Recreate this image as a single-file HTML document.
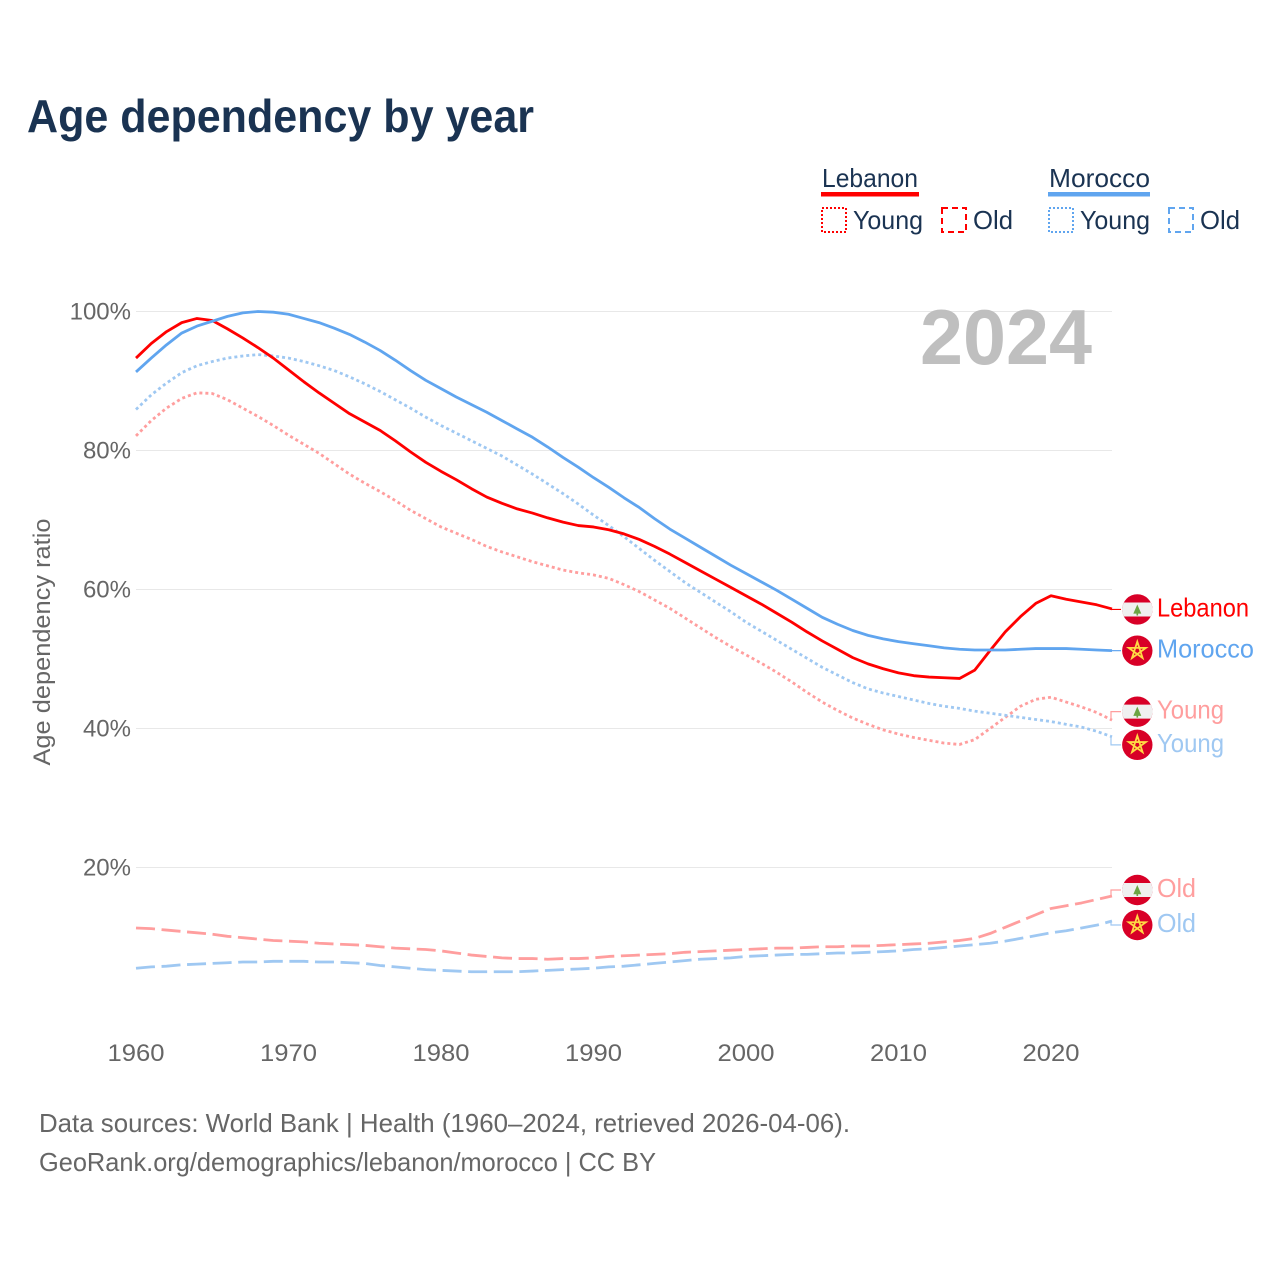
<!DOCTYPE html>
<html lang="en">
<head>
<meta charset="utf-8">
<title>Age dependency by year</title>
<style>
  html, body { margin: 0; padding: 0; background: #fff; }
  svg { display: block; font-family: "Liberation Sans", sans-serif; }
</style>
</head>
<body>
<svg id="chart" xmlns="http://www.w3.org/2000/svg" width="1280" height="1280" viewBox="0 0 1280 1280">
  <rect width="1280" height="1280" fill="#fff"/>
  <text x="27" y="132" font-size="46" font-weight="700" fill="#1a3352" textLength="507" lengthAdjust="spacingAndGlyphs">Age dependency by year</text>

  <g font-size="26" fill="#1a3352">
    <text x="822" y="187" textLength="96" lengthAdjust="spacingAndGlyphs">Lebanon</text>
    <rect x="821" y="192" width="98" height="4.5" fill="#ff0000"/>
    <rect x="822" y="208" width="24" height="24" fill="none" stroke="#ff0000" stroke-width="2" stroke-dasharray="2 2"/>
    <text x="853" y="229" textLength="70" lengthAdjust="spacingAndGlyphs">Young</text>
    <rect x="942" y="208" width="24" height="24" fill="none" stroke="#ff0000" stroke-width="2" stroke-dasharray="6 4"/>
    <text x="973" y="229" textLength="40" lengthAdjust="spacingAndGlyphs">Old</text>

    <text x="1049" y="187" textLength="101" lengthAdjust="spacingAndGlyphs">Morocco</text>
    <rect x="1048" y="192" width="102" height="4.5" fill="#60a5ef"/>
    <rect x="1049" y="208" width="24" height="24" fill="none" stroke="#60a5ef" stroke-width="2" stroke-dasharray="2 2"/>
    <text x="1080" y="229" textLength="70" lengthAdjust="spacingAndGlyphs">Young</text>
    <rect x="1169" y="208" width="24" height="24" fill="none" stroke="#60a5ef" stroke-width="2" stroke-dasharray="6 4"/>
    <text x="1200" y="229" textLength="40" lengthAdjust="spacingAndGlyphs">Old</text>
  </g>

  <text transform="translate(50 642) rotate(-90)" text-anchor="middle" font-size="24" fill="#666666" textLength="247" lengthAdjust="spacingAndGlyphs">Age dependency ratio</text>

  <g id="grid"></g>
  <g id="yticks"></g>
  <g id="xticks"></g>

  <text x="920" y="364" font-size="78" font-weight="700" fill="#bfbfbf" textLength="172" lengthAdjust="spacingAndGlyphs">2024</text>

  <g id="series"></g>
  <g id="ends"></g>

  <text x="39" y="1132" font-size="26" fill="#666666" textLength="811" lengthAdjust="spacingAndGlyphs">Data sources: World Bank | Health (1960–2024, retrieved 2026-04-06).</text>
  <text x="39" y="1171" font-size="26" fill="#666666" textLength="617" lengthAdjust="spacingAndGlyphs">GeoRank.org/demographics/lebanon/morocco | CC BY</text>
</svg>

<script>
const years = [1960,1961,1962,1963,1964,1965,1966,1967,1968,1969,1970,1971,1972,1973,1974,1975,1976,1977,1978,1979,1980,1981,1982,1983,1984,1985,1986,1987,1988,1989,1990,1991,1992,1993,1994,1995,1996,1997,1998,1999,2000,2001,2002,2003,2004,2005,2006,2007,2008,2009,2010,2011,2012,2013,2014,2015,2016,2017,2018,2019,2020,2021,2022,2023,2024];
const lebanonTotal = [93.3,95.4,97.1,98.4,99.0,98.7,97.5,96.2,94.8,93.3,91.6,89.9,88.3,86.8,85.3,84.1,82.9,81.4,79.8,78.3,77.0,75.8,74.5,73.3,72.4,71.6,71.0,70.3,69.7,69.2,69.0,68.6,68.0,67.2,66.2,65.1,63.9,62.7,61.5,60.3,59.1,57.9,56.6,55.3,53.9,52.6,51.4,50.2,49.3,48.6,48.0,47.6,47.4,47.3,47.2,48.4,51.2,53.9,56.1,58.0,59.1,58.6,58.2,57.8,57.2];
const moroccoTotal = [91.3,93.3,95.2,96.9,97.9,98.6,99.3,99.8,100.0,99.9,99.6,99.0,98.4,97.6,96.7,95.6,94.4,93.0,91.5,90.1,88.9,87.7,86.6,85.5,84.3,83.1,81.9,80.5,79.0,77.6,76.1,74.7,73.2,71.8,70.2,68.7,67.4,66.1,64.8,63.5,62.3,61.1,59.9,58.6,57.3,56.0,55.0,54.1,53.4,52.9,52.5,52.2,51.9,51.6,51.4,51.3,51.3,51.3,51.4,51.5,51.5,51.5,51.4,51.3,51.2];
const lebanonYoung = [82.1,84.3,86.1,87.5,88.3,88.2,87.3,86.1,84.9,83.6,82.2,80.9,79.6,78.1,76.6,75.3,74.1,72.8,71.4,70.2,69.0,68.1,67.2,66.2,65.4,64.7,64.0,63.4,62.8,62.4,62.1,61.6,60.7,59.7,58.5,57.3,55.9,54.5,53.1,51.8,50.6,49.4,48.1,46.7,45.2,43.8,42.6,41.5,40.6,39.8,39.2,38.7,38.3,37.9,37.7,38.4,40.0,41.6,43.2,44.2,44.5,43.8,43.1,42.3,41.2];
const moroccoYoung = [85.9,88.0,89.7,91.2,92.2,92.8,93.3,93.6,93.8,93.6,93.3,92.8,92.2,91.5,90.6,89.6,88.5,87.3,86.1,84.8,83.6,82.5,81.4,80.3,79.2,77.9,76.6,75.2,73.8,72.3,70.7,69.2,67.6,65.9,64.2,62.6,61.0,59.6,58.2,56.8,55.3,54.0,52.7,51.4,50.1,48.8,47.7,46.6,45.7,45.1,44.6,44.1,43.6,43.2,42.9,42.5,42.2,41.9,41.6,41.3,41.0,40.6,40.2,39.6,38.8];
const lebanonOld = [11.3,11.2,11.0,10.8,10.6,10.4,10.1,9.9,9.7,9.5,9.4,9.3,9.1,9.0,8.9,8.8,8.6,8.4,8.3,8.2,8.0,7.7,7.4,7.2,7.0,6.9,6.9,6.8,6.9,6.9,7.0,7.2,7.3,7.4,7.5,7.6,7.8,7.9,8.0,8.1,8.2,8.3,8.4,8.4,8.5,8.6,8.6,8.7,8.7,8.8,8.9,9.0,9.1,9.3,9.5,9.8,10.5,11.4,12.3,13.2,14.1,14.5,14.9,15.4,15.9];
const moroccoOld = [5.5,5.7,5.8,6.0,6.1,6.2,6.3,6.4,6.4,6.5,6.5,6.5,6.4,6.4,6.3,6.2,5.9,5.7,5.5,5.3,5.2,5.1,5.0,5.0,5.0,5.0,5.1,5.2,5.3,5.4,5.5,5.7,5.8,6.0,6.2,6.4,6.6,6.8,6.9,7.0,7.2,7.3,7.4,7.5,7.5,7.6,7.7,7.7,7.8,7.9,8.0,8.2,8.3,8.5,8.7,8.9,9.1,9.4,9.8,10.2,10.6,10.9,11.3,11.7,12.3];
const yTickValues = [20,40,60,80,100];
const yTickLabels = ["20%","40%","60%","80%","100%"];
const xTickValues = [1960,1970,1980,1990,2000,2010,2020];
const xTickLabels = ["1960","1970","1980","1990","2000","2010","2020"];

const NS = "http://www.w3.org/2000/svg";
const xAxis = function (year) { return 136 + (year - 1960) * 15.25; };
const yAxis = function (value) { return 1006.5 - value * 6.95; };
const make = function (tag, parent) {
  const el = document.createElementNS(NS, tag);
  parent.appendChild(el);
  return el;
};

const gridGroup = document.getElementById("grid");
const yTickGroup = document.getElementById("yticks");
const xTickGroup = document.getElementById("xticks");
const seriesGroup = document.getElementById("series");
const endGroup = document.getElementById("ends");

yTickValues.forEach(function (v, i) {
  const line = make("line", gridGroup);
  
  
  line.setAttribute("x1", xAxis(1960));
  line.setAttribute("x2", xAxis(2024));
  line.setAttribute("y1", yAxis(v));
  line.setAttribute("y2", yAxis(v));
  line.setAttribute("stroke", "#e8e8e8");
  line.setAttribute("stroke-width", "1");
  const t = make("text", yTickGroup);
  
  
  t.setAttribute("x", 131);
  t.setAttribute("y", yAxis(v) + 8);
  t.setAttribute("text-anchor", "end");
  t.setAttribute("font-size", "24");
  t.setAttribute("fill", "#666666");
  t.textContent = yTickLabels[i];
});

xTickValues.forEach(function (v, i) {
  const t = make("text", xTickGroup);
  
  
  t.setAttribute("x", xAxis(v));
  t.setAttribute("y", 1061);
  t.setAttribute("text-anchor", "middle");
  t.setAttribute("font-size", "24");
  t.setAttribute("fill", "#666666");
  t.setAttribute("textLength", "57");
  t.setAttribute("lengthAdjust", "spacingAndGlyphs");
  t.textContent = xTickLabels[i];
});

function drawLine(values, color, dash, name) {
  const p = make("path", seriesGroup);
  
  
  p.setAttribute("d", values.map(function (v, i) {
    return (i ? "L" : "M") + xAxis(years[i]).toFixed(2) + " " + yAxis(v).toFixed(2);
  }).join(""));
  p.setAttribute("fill", "none");
  p.setAttribute("stroke", color);
  p.setAttribute("stroke-width", "2.8");
  p.setAttribute("stroke-linejoin", "round");
  if (dash) p.setAttribute("stroke-dasharray", dash);
}

function drawFlag(country, cy) {
  const g = make("g", endGroup);
  
  
  g.setAttribute("transform", "translate(1137.3 " + cy + ")");
  const disc = make("circle", g);
  disc.setAttribute("r", "15.2");
  disc.setAttribute("fill", "#d80027");
  if (country === "lebanon") {
    const band = make("path", g);
    band.setAttribute("d", "M-13.5 -7A15.2 15.2 0 0 0 -13.5 7H13.5A15.2 15.2 0 0 0 13.5 -7Z");
    band.setAttribute("fill", "#f0f0f0");
    const tree = make("path", g);
    tree.setAttribute("d", "M0 -5L4 4.2H0.8V6H-0.8V4.2H-4Z");
    tree.setAttribute("fill", "#6da544");
  } else {
    const star = make("path", g);
    star.setAttribute("d", "M0 -9L5.3 7.3L-8.6 -2.8H8.6L-5.3 7.3Z");
    star.setAttribute("fill", "none");
    star.setAttribute("stroke", "#ffda44");
    star.setAttribute("stroke-width", "1.8");
  }
}

function drawEnd(values, color, country, text, nudge, name) {
  const endX = xAxis(years[years.length - 1]);
  const endY = yAxis(values[values.length - 1]);
  const labelY = endY + nudge;
  const lead = make("path", endGroup);
  
  
  lead.setAttribute("d", "M" + (endX - 1) + " " + endY + "L" + (endX - 1) + " " + labelY + "H1121");
  lead.setAttribute("fill", "none");
  lead.setAttribute("stroke", color);
  lead.setAttribute("stroke-width", "1.2");
  drawFlag(country, labelY);
  const t = make("text", endGroup);
  
  
  t.setAttribute("x", 1157);
  t.setAttribute("y", labelY + 7);
  t.setAttribute("font-size", "26");
  t.setAttribute("fill", color);
  t.setAttribute("textLength", text === "Lebanon" ? "92" : text === "Morocco" ? "97" : text === "Young" ? "67" : "39");
  t.setAttribute("lengthAdjust", "spacingAndGlyphs");
  t.textContent = text;
}

const RED = "#ff0000", BLUE = "#60a5ef", LRED = "#ff9e9e", LBLUE = "#9fc8f2";
const DOT = "3 3", DASH = "19 6.6";

drawLine(lebanonOld, LRED, DASH, "lebanon-old-line");
drawLine(moroccoOld, LBLUE, DASH, "morocco-old-line");
drawLine(lebanonYoung, LRED, DOT, "lebanon-young-line");
drawLine(moroccoYoung, LBLUE, DOT, "morocco-young-line");
drawLine(lebanonTotal, RED, null, "lebanon-total-line");
drawLine(moroccoTotal, BLUE, null, "morocco-total-line");

drawEnd(lebanonTotal, RED, "lebanon", "Lebanon", 0.5, "lebanon-total");
drawEnd(moroccoTotal, BLUE, "morocco", "Morocco", 0, "morocco-total");
drawEnd(lebanonYoung, LRED, "lebanon", "Young", -8.5, "lebanon-young");
drawEnd(moroccoYoung, LBLUE, "morocco", "Young", 8, "morocco-young");
drawEnd(lebanonOld, LRED, "lebanon", "Old", -6, "lebanon-old");
drawEnd(moroccoOld, LBLUE, "morocco", "Old", 4, "morocco-old");
</script>
</body>
</html>
